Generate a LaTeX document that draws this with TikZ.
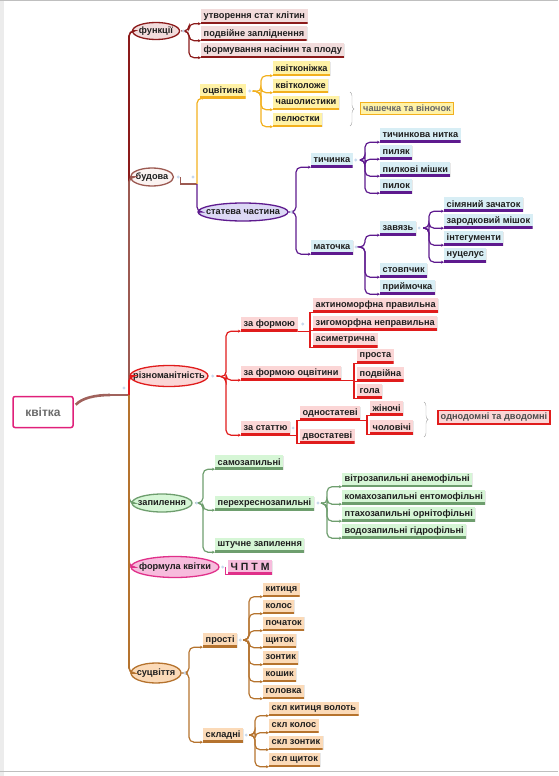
\documentclass[tikz,border=0pt]{standalone}
\usepackage{fontspec}
\setmainfont{Liberation Sans}
\usetikzlibrary{arrows.meta,shapes.geometric,decorations.pathreplacing,shadows}

\definecolor{txtC}{HTML}{1E1E1E}
\definecolor{rootC}{HTML}{A0625C}
\definecolor{rootB}{HTML}{E0207A}
\definecolor{funcC}{HTML}{8B1A1A}
\definecolor{funcF}{HTML}{F2DCDC}
\definecolor{budC}{HTML}{9C5A52}
\definecolor{budF}{HTML}{FBF3F1}
\definecolor{ocvC}{HTML}{F2B01E}
\definecolor{ocvF}{HTML}{FFF2A6}
\definecolor{statC}{HTML}{5E1A8E}
\definecolor{statF}{HTML}{D8EEF5}
\definecolor{statE}{HTML}{DCD8F5}
\definecolor{rizC}{HTML}{E01C1C}
\definecolor{rizF}{HTML}{FBD6D6}
\definecolor{zapC}{HTML}{6E9E6E}
\definecolor{zapF}{HTML}{D6F6D6}
\definecolor{forC}{HTML}{E0308A}
\definecolor{forF}{HTML}{F7BCDD}
\definecolor{sucC}{HTML}{B5732E}
\definecolor{sucF}{HTML}{FBDAB8}
\definecolor{dotC}{HTML}{C8D8EC}

\newcommand{\tfont}{\bfseries\fontsize{9.2}{10}\selectfont}

\tikzset{
  topic/.style={anchor=west, inner xsep=2.5pt, inner ysep=0pt, minimum height=14pt,
    font=\tfont, text=txtC, drop shadow={opacity=0.18, shadow xshift=0.8pt, shadow yshift=-0.8pt}},
  uline/.style={path picture={\draw[#1, line width=3.2pt]
    (path picture bounding box.south west) -- (path picture bounding box.south east);}},
  leaf/.style 2 args={topic, fill=#1, uline=#2},
  main/.style 2 args={ellipse, draw=#1, fill=#2, line width=1.3pt, inner xsep=-40pt,
    inner ysep=-10pt, minimum height=18pt, font=\tfont, text=txtC},
  maincon/.style={draw=#1, line width=1.6pt, rounded corners=5pt},
  con/.style={draw=#1, line width=1.2pt, rounded corners=5pt, -{Stealth[length=3pt,width=3pt]}},
  sqcon/.style={draw=#1, line width=1.2pt},
  knob/.style={fill=dotC},
  note/.style 2 args={draw=#1, fill=#2, line width=1.5pt, inner sep=2.5pt, font=\tfont, text=txtC!80},
  curly/.style={decorate, decoration={brace, amplitude=4pt}, draw=gray!70, thin},
}

\begin{document}
\begin{tikzpicture}[x=1pt,y=-1pt]

% frame
\useasboundingbox (0,0) rectangle (558,776);
\fill[gray!15] (0,0) rectangle (4,776);
\draw[gray!50] (0,0.5) -- (558,0.5);
\draw[gray!50] (0,771) -- (558,771);

% Root
\node[draw=rootB, fill=white, line width=1.5pt, rounded corners=2pt, minimum width=60pt,
  minimum height=31pt, font=\bfseries\fontsize{12}{12}\selectfont, text=gray!85!black] (root) at (43,412) {квітка};
\coordinate (rK) at (110,395);
\coordinate (rJ) at (129,395);
\draw[rootC, line width=2.6pt] ([xshift=2pt,yshift=-9pt]root.north east) .. controls (82,398) and (95,395) .. (rK);
\draw[rootC, line width=1.5pt] (rK) -- (rJ);
\fill[knob] (124,388) circle (1.6);

% Main topics
\node[main={funcC}{funcF}, minimum width=47pt, minimum height=17pt] (func) at (156,31) {функції};
\node[main={budC}{budF}, minimum width=43pt, minimum height=18pt] (bud) at (152,177) {будова};
\node[main={rizC}{rizF}, minimum width=78pt, minimum height=21pt] (riz) at (169,376) {різноманітність};
\node[main={zapC}{zapF}, minimum width=60pt] (zap) at (162,503) {запилення};
\node[main={forC}{forF}, minimum width=88pt, minimum height=21pt] (form) at (175,567) {формула квітки};
\node[main={sucC}{sucF}, minimum width=50pt, minimum height=20pt] (suc) at (156,673) {суцвіття};

\draw[maincon=funcC] (rJ) |- (func.west);
\draw[maincon=budC] (rJ) |- (bud.west);
\draw[maincon=rizC] (rJ) |- (riz.west);
\draw[maincon=zapC] (rJ) |- (zap.west);
\draw[maincon=forC] (rJ) |- (form.west);
\draw[maincon=sucC] (rJ) |- (suc.west);

% функції
\node[leaf={funcF}{funcC}] (f1) at (201,16.5) {утворення стат клітин};
\node[leaf={funcF}{funcC}] (f2) at (201,33.5) {подвійне запліднення};
\node[leaf={funcF}{funcC}] (f3) at (201,50.5) {формування насінин та плоду};
\coordinate (fJ) at (189,31);
\foreach \c in {f1,f2,f3}
  \draw[con=funcC] ([xshift=6pt]func.east) -- (fJ) |- (\c.south west);
\fill[knob] ([xshift=3pt]func.east) circle (1.6);

% будова
\node[leaf={ocvF}{ocvC}] (ocv) at (200,91) {оцвітина};
\node[main={statC}{statE}, minimum width=90pt, minimum height=18pt] (stat) at (243,212) {статева частина};
\coordinate (bJ) at (197,184);
\draw[sqcon=budC] ([xshift=6pt]bud.east) |- (bJ);
\draw[con=ocvC] (bJ) |- (ocv.south west);
\draw[con=statC] (bJ) |- (stat.west);
\fill[knob] ([xshift=4pt]bud.east) circle (1.6);
\fill[knob] (193,177) circle (1.6);

% оцвітина
\node[leaf={ocvF}{ocvC}] (o1) at (273,68.5) {квітконіжка};
\node[leaf={ocvF}{ocvC}] (o2) at (273,85.5) {квітколоже};
\node[leaf={ocvF}{ocvC}] (o3) at (273,102.5) {чашолистики};
\node[leaf={ocvF}{ocvC}] (o4) at (273,119.5) {пелюстки};
\coordinate (oJ) at (261,92);
\foreach \c in {o1,o2,o3,o4}
  \draw[con=ocvC] ([xshift=7pt]ocv.east) -- (oJ) |- (\c.south west);
\fill[knob] ([xshift=4pt]ocv.east) circle (1.6);
\draw[curly] (350,92) -- (350,126);
\node[note={ocvC}{ocvF}, text=gray!80!black] (ocvnote) at (407,108.5) {чашечка та віночок};

% статева частина
\node[leaf={statF}{statC}] (tych) at (311,160) {тичинка};
\node[leaf={statF}{statC}] (mat) at (311,247) {маточка};
\coordinate (sJ) at (296,212);
\foreach \c in {tych,mat}
  \draw[con=statC] ([xshift=5pt]stat.east) -- (sJ) |- (\c.south west);
\fill[knob] ([xshift=2.5pt]stat.east) circle (1.6);

\node[leaf={statF}{statC}] (t1) at (380,135) {тичинкова нитка};
\node[leaf={statF}{statC}] (t2) at (380,152) {пиляк};
\node[leaf={statF}{statC}] (t3) at (380,169) {пилкові мішки};
\node[leaf={statF}{statC}] (t4) at (380,186) {пилок};
\coordinate (tJ) at (365,160);
\foreach \c in {t1,t2,t3,t4}
  \draw[con=statC] ([xshift=7pt]tych.east) -- (tJ) |- (\c.south west);
\fill[knob] ([xshift=3pt]tych.east) circle (1.6);

\node[leaf={statF}{statC}] (zav) at (380,228) {завязь};
\node[leaf={statF}{statC}] (stov) at (380,270) {стовпчик};
\node[leaf={statF}{statC}] (pryim) at (380,287) {приймочка};
\coordinate (mJ) at (365,247);
\foreach \c in {zav,stov,pryim}
  \draw[con=statC] ([xshift=7pt]mat.east) -- (mJ) |- (\c.south west);
\fill[knob] ([xshift=3pt]mat.east) circle (1.6);

\node[leaf={statF}{statC}] (z1) at (444,204) {сімяний зачаток};
\node[leaf={statF}{statC}] (z2) at (444,221) {зародковий мішок};
\node[leaf={statF}{statC}] (z3) at (444,238) {інтегументи};
\node[leaf={statF}{statC}] (z4) at (444,255) {нуцелус};
\coordinate (zJ) at (429,228);
\foreach \c in {z1,z2,z3,z4}
  \draw[con=statC] ([xshift=7pt]zav.east) -- (zJ) |- (\c.south west);
\fill[knob] ([xshift=3pt]zav.east) circle (1.6);

% різноманітність
\node[leaf={rizF}{rizC}] (zf) at (241,324) {за формою};
\node[leaf={rizF}{rizC}] (zo) at (241,373) {за формою оцвітини};
\node[leaf={rizF}{rizC}] (zs) at (241,428) {за статтю};
\coordinate (qJ) at (226,377);
\foreach \c in {zf,zo,zs}
  \draw[con=rizC] ([xshift=8pt]riz.east) -- (qJ) |- (\c.south west);
\fill[knob] ([xshift=4pt]riz.east) circle (1.6);

\node[leaf={rizF}{rizC}] (a1) at (313,305) {актиноморфна правильна};
\node[leaf={rizF}{rizC}] (a2) at (313,323) {зигоморфна неправильна};
\node[leaf={rizF}{rizC}] (a3) at (313,340) {асиметрична};
\foreach \c in {a1,a2,a3}
  \draw[sqcon=rizC] (zf.south east) -| ([xshift=-3pt]\c.south west) -- (\c.south west);
\fill[knob] ([xshift=5pt]zf.east) circle (1.6);

\node[leaf={rizF}{rizC}] (p1) at (357,356) {проста};
\node[leaf={rizF}{rizC}] (p2) at (357,374) {подвійна};
\node[leaf={rizF}{rizC}] (p3) at (357,391) {гола};
\foreach \c in {p1,p2,p3}
  \draw[sqcon=rizC] (zo.south east) -| ([xshift=-3pt]\c.south west) -- (\c.south west);

\node[leaf={rizF}{rizC}] (s1) at (300,413) {одностатеві};
\node[leaf={rizF}{rizC}] (s2) at (300,436) {двостатеві};
\foreach \c in {s1,s2}
  \draw[sqcon=rizC] (zs.south east) -| ([xshift=-3pt]\c.south west) -- (\c.south west);
\fill[knob] ([xshift=3pt]zs.east) circle (1.6);

\node[leaf={rizF}{rizC}] (s11) at (370,408) {жіночі};
\node[leaf={rizF}{rizC}] (s12) at (370,427) {чоловічі};
\foreach \c in {s11,s12}
  \draw[sqcon=rizC] (s1.south east) -| ([xshift=-3pt]\c.south west) -- (\c.south west);
\draw[curly] (424,402) -- (424,437);
\node[note={rizC}{rizF}] (riznote) at (494,417) {однодомні та дводомні};

% запилення
\node[leaf={zapF}{zapC}] (zp1) at (215,462) {самозапильні};
\node[leaf={zapF}{zapC}] (zp2) at (215,503) {перехреснозапильні};
\node[leaf={zapF}{zapC}] (zp3) at (215,545) {штучне запилення};
\coordinate (pJ) at (203,503);
\foreach \c in {zp1,zp2,zp3}
  \draw[con=zapC] ([xshift=6pt]zap.east) -- (pJ) |- (\c.south west);
\fill[knob] ([xshift=4pt]zap.east) circle (1.6);

\node[leaf={zapF}{zapC}] (v1) at (342,479.5) {вітрозапильні анемофільні};
\node[leaf={zapF}{zapC}] (v2) at (342,497) {комахозапильні ентомофільні};
\node[leaf={zapF}{zapC}] (v3) at (342,514) {птахозапильні орнітофільні};
\node[leaf={zapF}{zapC}] (v4) at (342,531) {водозапильні гідрофільні};
\coordinate (vJ) at (327,504);
\foreach \c in {v1,v2,v3,v4}
  \draw[con=zapC] ([xshift=7pt]zp2.east) -- (vJ) |- (\c.south west);
\fill[knob] ([xshift=4pt]zp2.east) circle (1.6);

% формула квітки
\node[leaf={forF}{forC}, font=\bfseries\fontsize{10.5}{11}\selectfont] (formula) at (228,567) {Ч П Т М};
\draw[sqcon=forC] ([xshift=6pt]form.east) |- (formula.south west);
\fill[knob] ([xshift=3pt]form.east) circle (1.6);

% суцвіття
\node[leaf={sucF}{sucC}] (pr) at (203,640) {прості};
\node[leaf={sucF}{sucC}] (skl) at (203,735) {складні};
\coordinate (uJ) at (189,673);
\foreach \c in {pr,skl}
  \draw[con=sucC] ([xshift=6pt]suc.east) -- (uJ) |- (\c.south west);
\fill[knob] ([xshift=3pt]suc.east) circle (1.6);

\node[leaf={sucF}{sucC}] (k1) at (263,589.5) {китиця};
\node[leaf={sucF}{sucC}] (k2) at (263,606.5) {колос};
\node[leaf={sucF}{sucC}] (k3) at (263,623.5) {початок};
\node[leaf={sucF}{sucC}] (k4) at (263,640.5) {щиток};
\node[leaf={sucF}{sucC}] (k5) at (263,657.5) {зонтик};
\node[leaf={sucF}{sucC}] (k6) at (263,674.5) {кошик};
\node[leaf={sucF}{sucC}] (k7) at (263,691.5) {головка};
\coordinate (kJ) at (249,640);
\foreach \c in {k1,k2,k3,k4,k5,k6,k7}
  \draw[con=sucC] ([xshift=6pt]pr.east) -- (kJ) |- (\c.south west);
\fill[knob] ([xshift=3pt]pr.east) circle (1.6);

\node[leaf={sucF}{sucC}] (c1) at (269,708.5) {скл китиця волоть};
\node[leaf={sucF}{sucC}] (c2) at (269,725.5) {скл колос};
\node[leaf={sucF}{sucC}] (c3) at (269,742.5) {скл зонтик};
\node[leaf={sucF}{sucC}] (c4) at (269,759.5) {скл щиток};
\coordinate (cJ) at (255,735);
\foreach \c in {c1,c2,c3,c4}
  \draw[con=sucC] ([xshift=6pt]skl.east) -- (cJ) |- (\c.south west);
\fill[knob] ([xshift=3pt]skl.east) circle (1.6);

\end{tikzpicture}
\end{document}
